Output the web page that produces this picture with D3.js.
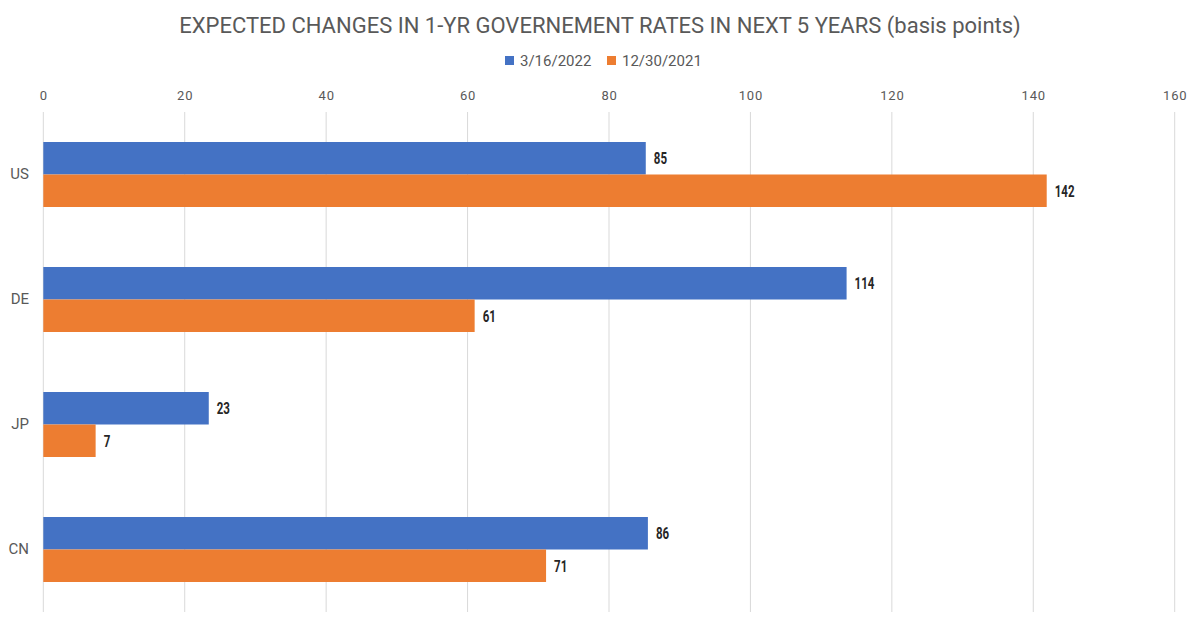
<!DOCTYPE html>
<html>
<head>
<meta charset="utf-8">
<script src="https://cdn.jsdelivr.net/npm/d3@7"></script>
<style>
  body { margin: 0; background: #fff; }
  svg text { font-family: "Roboto", "DejaVu Sans", sans-serif; }
</style>
</head>
<body>
<svg id="chart"></svg>
<script>
const countries = ["US", "DE", "JP", "CN"];
const seriesNames = ["3/16/2022", "12/30/2021"];
// values; labels show them rounded
const march2022 = [85.2, 113.6, 23.4, 85.5];
const dec2021 = [141.9, 61, 7.4, 71.1];
const xTicks = [0, 20, 40, 60, 80, 100, 120, 140, 160];
const colors = ["#4472C4", "#ED7D31"];

const W = 1200, H = 628;
const margin = {left: 43, right: 25, top: 112, bottom: 16};

const svg = d3.select("#chart").attr("width", W).attr("height", H);

const rows = countries.map((c, i) => ({country: c, values: [march2022[i], dec2021[i]]}));

// scales
const x = d3.scaleLinear().domain([0, 160]).range([43.3, 1174.7]);
const y = d3.scaleBand().domain(countries)
    .range([margin.top, H - margin.bottom])
    .paddingInner(0.48).paddingOuter(0.24);
const ySub = d3.scaleBand().domain(seriesNames).range([0, y.bandwidth()]);

// title
svg.append("text")
    .attr("x", 600).attr("y", 33)
    .attr("text-anchor", "middle")
    .style("font-size", "22px")
    .style("fill", "#595959")
    .text("EXPECTED CHANGES IN 1-YR GOVERNEMENT RATES IN NEXT 5 YEARS (basis points)");

// legend
const legend = svg.append("g").attr("transform", "translate(505,61)");
const legendX = [0, 102];
seriesNames.forEach((s, i) => {
    const g = legend.append("g").attr("transform", `translate(${legendX[i]},0)`);
    g.append("rect").attr("x", 0).attr("y", -5).attr("width", 9).attr("height", 9)
        .style("fill", colors[i]);
    g.append("text").attr("x", 15).attr("y", 0).attr("dy", "0.35em")
        .style("font-size", "15px").style("fill", "#595959").text(s);
});

// gridlines
svg.append("g")
    .selectAll("line")
    .data(xTicks)
    .enter()
    .append("line")
    .attr("x1", d => x(d)).attr("x2", d => x(d))
    .attr("y1", margin.top).attr("y2", H - margin.bottom)
    .style("stroke", "#d9d9d9").style("stroke-width", 1);

// x axis on top
const xAxis = d3.axisTop(x).tickValues(xTicks).tickSize(0).tickPadding(0);
const gx = svg.append("g").attr("transform", "translate(0,100)").call(xAxis);
gx.select(".domain").remove();
gx.selectAll("text").style("font-size", "13px").style("fill", "#595959")
    .style("letter-spacing", "0.8px")
    .style("font-family", "Roboto, sans-serif");

// y axis
const yAxis = d3.axisLeft(y).tickSize(0).tickPadding(14);
const gy = svg.append("g").attr("transform", `translate(${margin.left},0)`).call(yAxis);
gy.select(".domain").remove();
gy.selectAll("text").style("font-size", "15px").style("fill", "#595959")
    .style("font-family", "Roboto, sans-serif");

// bars
const groups = svg.append("g")
    .selectAll("g")
    .data(rows)
    .enter()
    .append("g")
    .attr("transform", d => `translate(0,${y(d.country)})`);

groups.selectAll("rect")
    .data(d => d.values.map((v, i) => ({series: seriesNames[i], value: v, idx: i})))
    .enter()
    .append("rect")
    .attr("x", x(0))
    .attr("y", d => ySub(d.series))
    .attr("width", d => x(d.value) - x(0))
    .attr("height", ySub.bandwidth())
    .style("fill", d => colors[d.idx]);

// data labels, squeezed to look like a condensed face
groups.selectAll("text.val")
    .data(d => d.values.map((v, i) => ({series: seriesNames[i], value: v})))
    .enter()
    .append("text")
    .attr("class", "val")
    .attr("transform", d => `translate(${x(d.value) + 8},${ySub(d.series) + ySub.bandwidth() / 2}) scale(0.72,1)`)
    .attr("dy", "0.36em")
    .style("font-weight", "bold")
    .style("font-size", "16px")
    .style("fill", "#262626")
    .text(d => Math.round(d.value));
</script>
</body>
</html>
